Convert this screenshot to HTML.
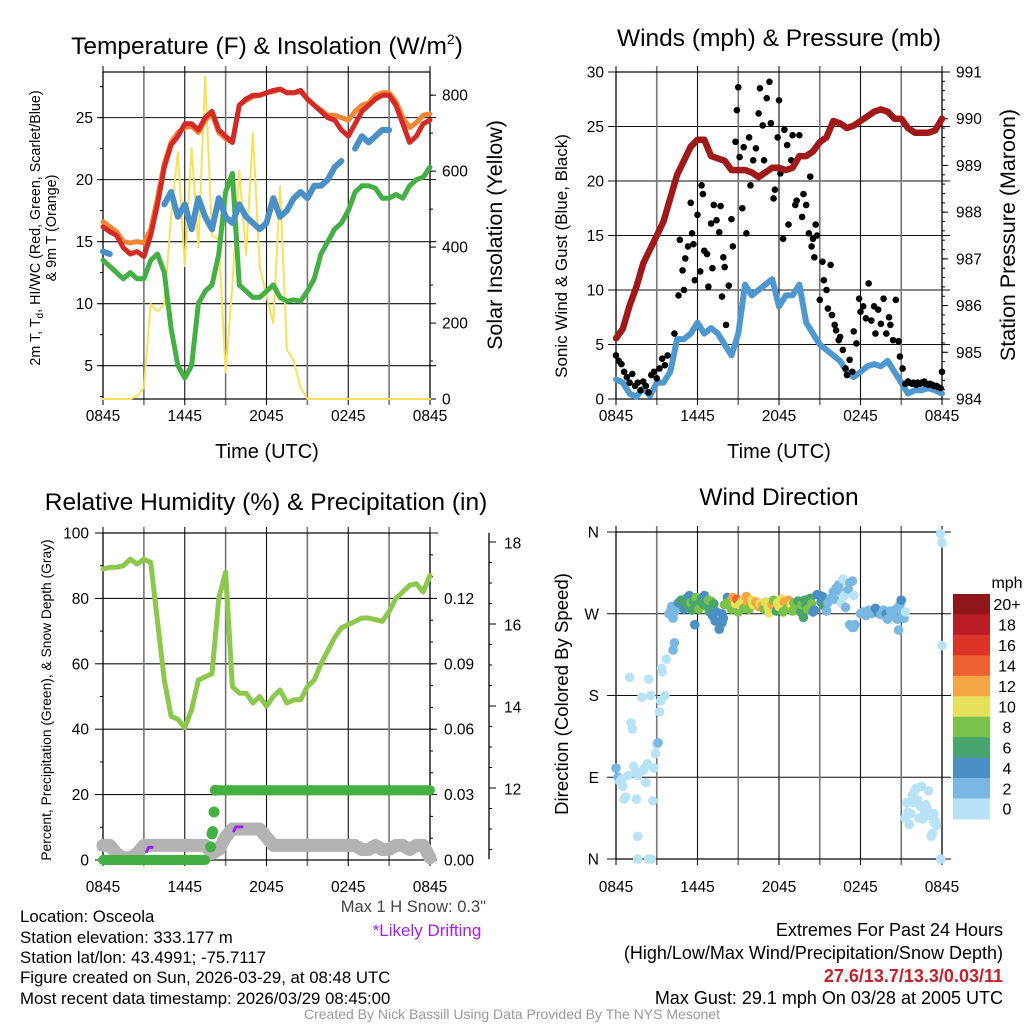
<!DOCTYPE html>
<html><head><meta charset="utf-8"><style>
html,body{margin:0;padding:0;background:#fff}
svg{display:block;font-family:"Liberation Sans",sans-serif}
</style></head><body>
<svg id="s" width="1024" height="1024" viewBox="0 0 1024 1024" xmlns="http://www.w3.org/2000/svg">
<g id="g1"></g>
<g id="g2"></g>
<g id="g3"></g>
<g id="g4"></g>
<g id="txt">
<text x="267" y="54" font-size="24.5" text-anchor="middle">Temperature (F) &amp; Insolation (W/m<tspan dy="-10" font-size="14">2</tspan><tspan dy="10">)</tspan></text>
<text x="779" y="46" font-size="24.5" text-anchor="middle">Winds (mph) &amp; Pressure (mb)</text>
<text x="266" y="510" font-size="24.5" text-anchor="middle">Relative Humidity (%) &amp; Precipitation (in)</text>
<text x="779" y="505" font-size="24.5" text-anchor="middle">Wind Direction</text>
<text x="267" y="458" font-size="20" text-anchor="middle">Time (UTC)</text>
<text x="779" y="458" font-size="20" text-anchor="middle">Time (UTC)</text>
<text transform="translate(40,228) rotate(-90)" font-size="14.3" text-anchor="middle">2m T, T<tspan dy="3" font-size="10">d</tspan><tspan dy="-3">, HI/WC (Red, Green, Scarlet/Blue)</tspan></text>
<text transform="translate(56,228) rotate(-90)" font-size="14.3" text-anchor="middle">&amp; 9m T (Orange)</text>
<text transform="translate(502,235) rotate(-90)" font-size="21.5" text-anchor="middle">Solar Insolation (Yellow)</text>
<text transform="translate(567,256) rotate(-90)" font-size="17" text-anchor="middle">Sonic Wind &amp; Gust (Blue, Black)</text>
<text transform="translate(1015,235) rotate(-90)" font-size="21.5" text-anchor="middle">Station Pressure (Maroon)</text>
<text transform="translate(51,700) rotate(-90)" font-size="13.8" text-anchor="middle">Percent, Precipitation (Green), &amp; Snow Depth (Gray)</text>
<text transform="translate(568,694) rotate(-90)" font-size="18.6" text-anchor="middle">Direction (Colored By Speed)</text>
<text x="1007" y="588" font-size="16" text-anchor="middle">mph</text>
<text x="486" y="912" font-size="16.5" text-anchor="end" fill="#444">Max 1 H Snow: 0.3"</text>
<text x="427" y="936" font-size="17" text-anchor="middle" fill="#a020f0">*Likely Drifting</text>
<g font-size="16.8">
<text x="20" y="922">Location: Osceola</text>
<text x="20" y="943">Station elevation: 333.177 m</text>
<text x="20" y="963">Station lat/lon: 43.4991; -75.7117</text>
<text x="20" y="983">Figure created on Sun, 2026-03-29, at 08:48 UTC</text>
<text x="20" y="1004">Most recent data timestamp: 2026/03/29 08:45:00</text>
</g>
<g font-size="18" text-anchor="end">
<text x="1003" y="936">Extremes For Past 24 Hours</text>
<text x="1003" y="959">(High/Low/Max Wind/Precipitation/Snow Depth)</text>
<text x="1003" y="982" fill="#c8202a" font-weight="bold">27.6/13.7/13.3/0.03/11</text>
<text x="1003" y="1004">Max Gust: 29.1 mph On 03/28 at 2005 UTC</text>
</g>
<text x="512" y="1019" font-size="14" text-anchor="middle" fill="#999">Created By Nick Bassill Using Data Provided By The NYS Mesonet</text>
</g>
</svg>
<script>
// ---------- DATA ----------
const hours = [0,0.5,1,1.5,2,2.5,3,3.5,4,4.5,5,5.5,6,6.5,7,7.5,8,8.5,9,9.5,10,10.5,11,11.5,12,12.5,13,13.5,14,14.5,15,15.5,16,16.5,17,17.5,18,18.5,19,19.5,20,20.5,21,21.5,22,22.5,23,23.5,24];
const timeTicks = ["0845","1445","2045","0245","0845"];
const tempRed = [16.2,15.8,15.5,14.5,14.0,14.2,13.8,15.5,18,21,22.8,23.5,24.5,24.5,24,25,25.5,24,23.5,23,26,26.5,26.8,26.8,27,27.2,27.3,27,27,27.2,26.5,26,25.5,25,24.8,24,23.5,24.5,25.5,26,26.5,26.8,26.8,26,24.5,23,23.5,24.5,24.8];
const tempOrange = [16.6,16.2,15.8,15.0,14.9,15.0,14.9,16.0,18.5,21.3,23,23.8,24.2,24.3,23.8,24.8,25.3,23.8,23.3,23,26,26.4,26.7,26.8,27,27.1,27.3,27,27,27.1,26.5,26,25.6,25.2,25.2,25,24.8,25.5,26,26.2,26.8,27,27,26.3,25,24.2,24.6,25.2,25.3];
const tempBlue = [14.2,14.0,null,null,null,null,null,null,null,18,19,17,18,16,18.5,17,16,18.5,17,16.5,18,17,16.5,16,16.5,18.5,17,17.5,18.5,19,18.5,19.5,19.5,20,21,21.5,null,22.5,23.5,23,23.5,24,24,null,null,null,null,null,null];
const dewGreen = [13.5,13,12.5,12,12.5,12,12,13.5,14,12.5,8,5,4,5,10,11,11.5,14,19,20.5,11.5,11,10.5,10.5,11,11.5,10.5,10.2,10.3,10.2,11,12,14,15,16,16.5,17.5,19,19.5,19.5,19.3,18.5,18.5,18.8,18.5,19.5,20,20.2,21];
const insolation = [0,0,0,0,0,8,30,250,230,250,480,650,350,660,400,850,430,420,70,300,600,380,700,350,270,200,560,130,100,30,0,0,0,0,0,0,0,0,0,0,0,0,0,0,0,0,0,0,0];
const tempTicks = [5,10,15,20,25];
const insolTicks = [0,200,400,600,800];
const windSpeed = [1.8,1.5,0.5,0.2,1,0.3,1.5,1.5,2.5,5.5,5.5,6,7,6,6.5,6,5,4,6,10.5,9.5,10,10.5,11,8.5,9.5,9.5,10.5,7,6,5,4.5,4,3.5,2.5,2.0,2.5,3,3.2,3,3.5,2.5,1.5,0.5,0.8,0.8,1,0.8,0.5];
const pressure = [985.3,985.5,986.0,986.4,986.9,987.2,987.5,987.8,988.3,988.8,989.1,989.4,989.55,989.55,989.2,989.15,989.1,988.9,988.9,988.9,988.85,988.75,988.85,988.95,988.95,988.9,988.95,989.2,989.2,989.3,989.5,989.6,989.95,989.9,989.8,989.85,989.95,990.05,990.15,990.2,990.15,990.0,990.0,989.8,989.7,989.7,989.7,989.75,990.0];
const gustHours = [0,0.2,0.4,0.6,0.8,1,1.2,1.4,1.6,1.8,2,2.2,2.4,2.6,2.8,3,3.2,3.4,3.6,3.8,4.3,4.6,4.7,4.9,5,5.1,5.3,5.5,5.6,5.7,5.8,6,6.2,6.3,6.4,6.5,6.7,6.8,7,7.1,7.2,7.4,7.6,7.7,7.8,7.9,8,8.1,8.3,8.5,8.6,8.8,8.9,9,9.1,9.3,9.4,9.6,9.8,9.9,10.1,10.3,10.5,10.6,10.8,10.9,11.1,11.3,11.4,11.6,11.7,11.9,12,12.1,12.3,12.4,12.6,12.7,12.9,13,13.2,13.3,13.5,13.7,13.8,14,14.2,14.3,14.4,14.5,14.6,14.7,14.8,15,15.2,15.3,15.5,15.6,15.8,15.9,16.1,16.2,16.4,16.5,16.7,16.9,17,17.2,17.4,17.5,17.7,17.9,18,18.2,18.4,18.6,18.8,19,19.1,19.3,19.5,19.7,19.9,20.1,20.2,20.4,20.6,20.8,20.9,21.1,21.3,21.5,21.6,21.8,21.9,22.1,22.2,22.4,22.5,22.7,22.8,23,23.1,23.3,23.4,23.6,23.7,23.9,24];
const gustSpeed = [4,3.5,3.2,2.5,2,1.5,2.3,1.2,1.5,0.8,1.6,1.2,0.6,2.2,2.5,1.9,2.8,3.7,3.1,4,6,9.5,14.6,11.8,10,12.9,14,18,15.2,14.2,10.9,16.9,11.7,19.6,18.8,13.6,13.3,10.3,16.1,12,17.8,16.4,15.3,17.7,9.4,13,12.1,6.8,10.4,16.5,14,23.6,26.5,28.6,22.2,17.5,23.1,15.2,24,19.6,21.9,23,26.2,28.5,25.1,21.9,27.6,29.1,25.3,18.4,19.2,24,27.4,20.7,14.7,24.7,23.3,16,21.9,24.2,17.8,18.2,24.2,16.7,18.8,17.8,15.2,20.4,14,14.7,13,16,15,9.1,12.6,10.9,10,8.3,12.3,7.7,6.8,6.3,5.4,5.7,4.5,2.8,2.2,3.6,2.5,6.2,5.1,9.2,8,8.5,7.4,10.6,7.2,8.5,6,8.2,6.9,9.2,6,7.5,6.8,5.4,9.1,5.3,3.9,2.8,1.4,1.6,1.5,1.4,1.5,1.3,1.5,1.4,1.5,1.6,1.4,1.3,1.4,1.3,1.2,1.2,1.1,1.0,2.5];
const windTicks = [0,5,10,15,20,25,30];
const pressTicks = [984,985,986,987,988,989,990,991];
const humidity = [89,89.5,89.5,90,92,90.5,92,91,73,55,44,43,40.5,46,55,56,57,80,88,53,51,51,48,50,47,50,52,48,49,49,53,55,60,64,68,71,72,73,74,74,73.5,73,76,80,82,84,84.5,82,87];
const precip = [0,0,0,0,0,0,0,0,0,0,0,0,0,0,0,0,0.006,0.032,0.032,0.032,0.032,0.032,0.032,0.032,0.032,0.032,0.032,0.032,0.032,0.032,0.032,0.032,0.032,0.032,0.032,0.032,0.032,0.032,0.032,0.032,0.032,0.032,0.032,0.032,0.032,0.032,0.032,0.032,0.032];
const precipExtraHours = [7.9,8.0,8.05,8.15,8.25];
const precipExtraVals = [0.006,0.012,0.013,0.022,0.032];
const snowDepth = [10.6,10.6,10.4,10.3,10.3,10.4,10.6,10.6,10.6,10.6,10.6,10.6,10.6,10.6,10.6,10.6,10.4,10.5,10.8,11.0,11.0,11.0,11.0,11.0,10.8,10.6,10.6,10.6,10.6,10.6,10.6,10.6,10.6,10.6,10.6,10.6,10.6,10.6,10.5,10.5,10.6,10.5,10.5,10.6,10.6,10.5,10.6,10.6,10.3];
const driftHours = [[3.2,3.35,3.6],[9.6,9.75,10.2]];
const driftVals = [[10.45,10.55,10.55],[10.95,11.05,11.05]];
const pctTicks = [0,20,40,60,80,100];
const precipTicks = ["0.00","0.03","0.06","0.09","0.12"];
const snowTicks = [12,14,16,18];
const dirPts = [[0,100,3],[0.15,90,3],[0.3,85,1],[0.45,88,1],[0.5,80,1],[0.6,66,1],[0.7,68,1],[0.9,92,1],[1.0,200,1],[1.1,150,1],[1.2,143,1],[1.3,102,1],[1.45,96,1],[1.6,92,1],[1.5,66,1],[1.6,25,1],[1.6,0,1],[1.9,178,1],[2.0,98,1],[2.1,100,1],[2.2,84,1],[2.3,105,1],[2.4,198,1],[2.55,180,1],[2.4,0,1],[2.6,0,1],[2.7,64,1],[2.8,100,1],[2.9,116,1],[3.0,126,1],[3.1,128,3],[3.2,162,1],[3.3,174,1],[3.35,210,1],[3.4,206,1],[3.6,180,1],[3.7,220,1],[4.2,230,3],[4.3,238,3],
[3.9,270,2],[4.0,272,2],[4.1,278,2],[4.2,265,3],[4.3,272,2],[4.5,277,2],[4.6,282,4],[4.8,285,7],[4.9,281,7],[5.0,275,4],[5.1,283,7],[5.2,287,6],[5.3,278,6],[5.4,290,5],[5.5,282,8],[5.6,274,6],[5.7,284,6],[5.8,258,4],[5.9,288,8],[6.0,280,6],[6.1,275,8],[6.3,286,7],[6.4,281,7],[6.5,290,4],[6.7,278,6],[6.8,285,8],[6.9,272,6],[7.0,284,8],[7.1,268,4],[7.2,281,7],[7.3,262,4],[7.4,272,4],[7.6,253,4],[7.8,270,4],[7.8,260,4],[7.9,265,4],[8.0,280,8],[8.2,288,4],[8.3,283,9],
[8.5,275,8],[8.6,288,12],[8.8,281,10],[8.9,286,14],[9.0,272,8],[9.1,280,10],[9.3,284,10],[9.4,276,8],[9.6,289,12],[9.7,283,12],[9.8,275,8],[10.0,285,11],[10.1,280,10],[10.3,283,12],[10.5,278,12],[10.6,281,10],[10.8,279,12],[10.9,275,8],[11.0,283,11],[11.2,277,10],[11.3,271,10],[11.5,280,12],[11.6,285,8],[11.8,273,6],[11.9,282,10],[12.0,278,10],[12.2,286,10],[12.3,272,8],[12.4,283,12],[12.6,276,8],[12.7,285,12],[12.9,280,10],[13.0,273,8],[13.1,282,9],[13.3,277,9],[13.4,284,7],[13.6,272,6],[13.7,280,8],[13.8,266,6],[13.9,285,7],[14.0,279,6],[14.1,275,8],[14.3,287,6],[14.4,281,8],
[14.5,272,4],[14.6,274,4],[14.8,291,4],[15.0,290,4],[15.1,283,5],[15.2,289,4],[15.3,279,7],[15.5,273,3],[15.6,282,3],[15.8,287,2],[16.0,294,2],[16.1,286,2],[16.2,298,2],[16.4,302,2],[16.5,295,2],[16.6,282,0],[16.7,308,0],[16.8,290,0],[16.9,277,2],[17.1,297,2],[17.2,304,2],[17.4,306,2],[17.5,290,0],[17.2,258,3],[17.4,255,2],[17.5,255,2],[17.6,258,3],
[18.0,270,2],[18.2,272,3],[18.4,268,2],[18.6,274,3],[18.8,270,2],[19.0,272,3],[19.1,276,5],[19.3,271,4],[19.5,269,3],[19.7,274,3],[19.9,270,4],[20.0,264,2],[20.2,273,3],[20.4,268,2],[20.6,275,3],[20.7,264,3],[20.8,252,3],[20.9,280,3],[21.0,285,4],[21.1,271,2],[21.2,265,2],[21.3,272,1],
[21.3,45,0],[21.4,62,0],[21.5,52,0],[21.6,38,0],[21.7,50,0],[21.8,70,0],[21.9,62,0],[22.0,75,0],[22.1,78,0],[22.2,65,0],[22.3,45,0],[22.4,58,0],[22.5,80,0],[22.6,44,0],[22.7,52,0],[22.8,60,0],[22.9,56,0],[23.0,75,0],[23.1,48,0],[23.2,25,0],[23.4,40,0],[23.5,42,0],[23.6,37,0],[23.3,28,0],[23.4,50,0],[23.9,0,0],[23.9,358,0],[24,348,0],[24,235,0]];
const dirTicks = ["N","E","S","W","N"];
const speedBins = ["0","2","4","6","8","10","12","14","16","18","20+"];
const binColors = ["#b8e3f7","#7ab8e3","#4a8fc6","#48a56d","#7bc24a","#e6e05a","#f5a543","#ef6130","#dc3327","#bb1c24","#8f1719"];

// ---------- HELPERS ----------
const NS="http://www.w3.org/2000/svg";
const TF=15.5;
function mk(parent,tag,attrs){const e=document.createElementNS(NS,tag);for(const k in attrs)e.setAttribute(k,attrs[k]);parent.appendChild(e);return e;}
function lin(d0,d1,r0,r1){return v=>r0+(v-d0)/(d1-d0)*(r1-r0);}
function pathFrom(xs,ys,fx,fy){let d="",pen=false;for(let i=0;i<xs.length;i++){if(ys[i]==null){pen=false;continue;}d+=(pen?"L":"M")+fx(xs[i]).toFixed(1)+","+fy(ys[i]).toFixed(1);pen=true;}return d;}
function frame(g,L,T,R,B,name){
  for(let i=0;i<=8;i++){const x=L+(R-L)*i/8;const l=mk(g,'line',{x1:x,x2:x,y1:T-6,y2:B+6,stroke:i%2?'#777':'#111','stroke-width':i%2?1.6:1.1});
  
  }
  const r=mk(g,'rect',{x:L,y:T,width:R-L,height:B-T,fill:'none',stroke:'#000','stroke-width':1.2});
  
  
}
function xLabels(g,L,R,y,name){timeTicks.forEach((t,i)=>{const e=mk(g,'text',{x:L+(R-L)*i/4,y:y,'font-size':TF,'text-anchor':'middle'});e.textContent=t;
  
  });}
function hgrid(g,L,R,y,ext){const l=mk(g,'line',{x1:L-ext,x2:R+ext,y1:y,y2:y,stroke:'#111','stroke-width':1.1});
  
  }
function lbl(g,x,y,t,anchor,name){const e=mk(g,'text',{x:x,y:y+5.5,'font-size':TF,'text-anchor':anchor});e.textContent=t;
  
  }
function tick(g,x1,x2,y){mk(g,'line',{x1:x1,x2:x2,y1:y,y2:y,stroke:'#000','stroke-width':1});}
function line(g,d,color,w,name){const p=mk(g,'path',{d:d,fill:'none',stroke:color,'stroke-width':w,'stroke-linejoin':'round','stroke-linecap':'round'});
  
  return p;}

// ---------- PANEL 1 ----------
(function(){const g=document.getElementById('g1');const L=103,T=72,R=430,B=399;
 const fx=lin(0,24,L,R),fy=lin(2.31,28.68,B,T),fi=lin(0,861,B,T);
 tempTicks.forEach(v=>{hgrid(g,L,R,fy(v),6);lbl(g,L-10,fy(v),String(v),'end','temp-tick');});
 for(let v=2.5;v<28.6;v+=2.5){tick(g,L-3,L,fy(v));}
 frame(g,L,T,R,B,'temp');
 insolTicks.forEach(v=>{tick(g,R,R+6,fi(v));lbl(g,R+12,fi(v),String(v),'start','insolation-tick');});
 for(let v=100;v<861;v+=100){tick(g,R,R+3,fi(v));}
 line(g,pathFrom(hours,insolation,fx,fi),'#f8e15a',2,'insolation-line');
 line(g,pathFrom(hours,dewGreen,fx,fy),'#44b043',5,'dewpoint-line');
 line(g,pathFrom(hours,tempBlue,fx,fy),'#4a8fc6',6,'windchill-line');
 line(g,pathFrom(hours,tempOrange,fx,fy),'#f58634',5,'temp-9m-line');
 line(g,pathFrom(hours,tempRed,fx,fy),'#d42a26',5,'temp-2m-line');
 xLabels(g,L,R,421,'temp');})();

// ---------- PANEL 2 ----------
(function(){const g=document.getElementById('g2');const L=616,T=72,R=942,B=399;
 const fx=lin(0,24,L,R),fy=lin(0,30,B,T),fp=lin(984,991,B,T);
 windTicks.forEach(v=>{hgrid(g,L,R,fy(v),8);lbl(g,L-12,fy(v),String(v),'end','wind-tick');});
 frame(g,L,T,R,B,'winds');
 pressTicks.forEach(v=>{tick(g,R,R+6,fp(v));lbl(g,R+14,fp(v),String(v),'start','pressure-tick');});
 for(let v=984.2;v<991;v+=0.2){tick(g,R,R+3,fp(v));}
 line(g,pathFrom(hours,windSpeed,fx,fy),'#4f97d0',6,'wind-speed-line');
 gustHours.forEach((h,i)=>{const c=mk(g,'circle',{cx:fx(h),cy:fy(gustSpeed[i]),r:3.3,fill:'#000'});
  
  });
 line(g,pathFrom(hours,pressure,fx,fp),'#a01818',6.5,'pressure-line');
 xLabels(g,L,R,421,'winds');})();

// ---------- PANEL 3 ----------
(function(){const g=document.getElementById('g3');const L=103,T=533,R=430,B=860;
 const fx=lin(0,24,L,R),fy=lin(0,100,B,T),fpr=lin(0,0.15,B,T),fs=lin(12,14,788,706);
 pctTicks.forEach(v=>{hgrid(g,L,R,fy(v),v==100?8:0);tick(g,L-8,L,fy(v));lbl(g,L-14,fy(v),String(v),'end','percent-tick');});
 for(let v=10;v<100;v+=20){tick(g,L-3,L,fy(v));}
 frame(g,L,T,R,B,'humidity');
 precipTicks.forEach(v=>{tick(g,R,R+7,fpr(+v));lbl(g,R+14,fpr(+v),v,'start','precip-tick');});
 for(let v=0.01;v<0.15;v+=0.01){tick(g,R,R+3,fpr(v));}
 const sx=489;const ax=mk(g,'line',{x1:sx,x2:sx,y1:533,y2:859,stroke:'#000','stroke-width':1.3});
 
 
 snowTicks.forEach(v=>{tick(g,sx,sx+7,fs(v));lbl(g,sx+15,fs(v)+1,String(v),'start','snow-tick');});
 for(let v=10.5;v<18.2;v+=0.5){tick(g,sx,sx+3,fs(v));}
 line(g,pathFrom(hours,snowDepth,fx,fs),'#b3b3b3',13,'snow-depth-line');
 const ph=hours.filter((h,i)=>precip[i]===0),pv=ph.map(()=>0);
 line(g,pathFrom(ph,pv,fx,fpr),'#44b043',10,'precip-line-low');
 const ph2=hours.filter((h,i)=>h>=8.5);const pv2=ph2.map(h=>precip[hours.indexOf(h)]);
 line(g,pathFrom([8.25].concat(ph2),[0.032].concat(pv2),fx,fpr),'#44b043',10,'precip-line-high');
 precipExtraHours.forEach((h,i)=>{const c=mk(g,'circle',{cx:fx(h),cy:fpr(precipExtraVals[i]),r:5.5,fill:'#44b043'});
  
  });
 driftHours.forEach((hs,i)=>line(g,pathFrom(hs,driftVals[i],fx,fs),'#a020f0',3,'drifting-marker'));
 line(g,pathFrom(hours,humidity,fx,fy),'#8cc84b',5,'humidity-line');
 xLabels(g,L,R,892,'humidity');})();

// ---------- PANEL 4 ----------
(function(){const g=document.getElementById('g4');const L=616,T=532,R=942,B=859;
 const fx=lin(0,24,L,R),fd=lin(0,360,B,T);
 dirTicks.forEach((t,i)=>{hgrid(g,L,R,fd(i*90),9);lbl(g,L-17,fd(i*90),t,'end','direction-tick');});
 frame(g,L,T,R,B,'direction');
 dirPts.forEach(p=>{const bin=Math.min(10,Math.floor(p[2]/2));const c=mk(g,'circle',{cx:fx(p[0]),cy:fd(p[1]),r:4.8,fill:binColors[bin]});
  
  });
 xLabels(g,L,R,892,'direction');
 const cbT=594,bh=20.45;
 binColors.slice().reverse().forEach((col,i)=>{const r=mk(g,'rect',{x:953,y:cbT+i*bh,width:37,height:bh+0.5,fill:col});
  
  });
 speedBins.slice().reverse().forEach((t,i)=>{const e=mk(g,'text',{x:1007,y:cbT+i*bh+bh*0.5+6,'font-size':16,'text-anchor':'middle'});e.textContent=t;
  
  });
})();
</script>
</body></html>
